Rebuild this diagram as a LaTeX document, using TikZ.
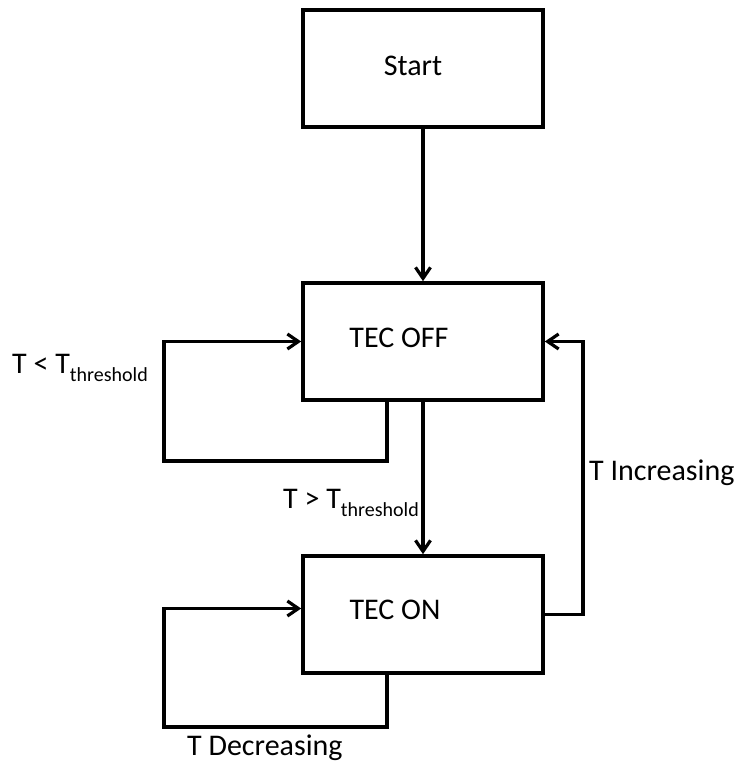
\documentclass[tikz,border=0pt]{standalone}
\usepackage{fontspec}
\setmainfont{Carlito}
\usetikzlibrary{arrows.meta}
\newcommand{\thr}{T\raisebox{-0.28em}{\fontsize{20}{20}\selectfont threshold}}
\begin{document}
\begin{tikzpicture}[x=1pt,y=-1pt,
  box/.style={draw,line width=3.6pt,minimum width=240pt,minimum height=117pt,inner sep=0pt},
  conn/.style={line width=3.4pt},
  arr/.style={conn,-{Straight Barb[length=11pt,width=15pt,line width=3.2pt]}},
  txt/.style={font=\fontsize{30}{36}\selectfont,inner sep=0pt}]
\useasboundingbox (0,0) rectangle (739,771);
\node[box] (start) at (423,68.5) {};
\node[box] (off) at (423,341.5) {};
\node[box] (on) at (423,614.5) {};
\node[txt] (tstart) at (413,66) {Start};
\node[txt] (toff) at (399,338) {TEC OFF};
\node[txt] (ton) at (395,610) {TEC ON};
\coordinate (la) at (164,461);
\coordinate (lb) at (164,727);
\coordinate (rc) at (583,614.5);
\draw[arr] (start.south) -- (off.north);
\draw[arr] ([xshift=-36pt]off.south) |- (la) |- (off.west);
\draw[arr] (off.south) -- (on.north);
\draw[arr] ([xshift=-36pt]on.south) |- (lb) |- ([yshift=6pt]on.west);
\draw[arr] (on.east) -- (rc) |- (off.east);
\node[txt,anchor=west] (lless) at (12,368) {T < \thr};
\node[txt,anchor=west] (lgreat) at (283,503) {T > \thr};
\node[txt,anchor=west] (linc) at (589,473) {T Increasing};
\node[txt,anchor=west] (ldec) at (187,748) {T Decreasing};
\end{tikzpicture}
\end{document}
